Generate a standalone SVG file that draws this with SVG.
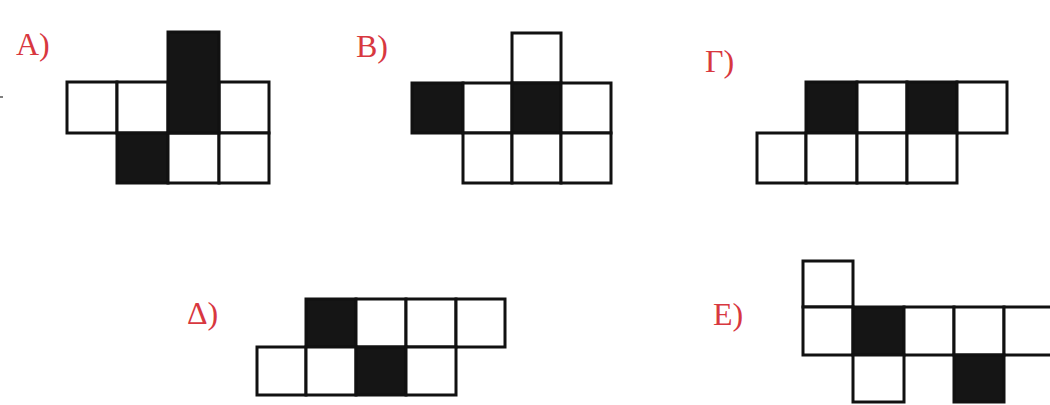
<svg xmlns="http://www.w3.org/2000/svg" width="1050" height="405" viewBox="0 0 1050 405">
<style>
.w{fill:#fff;stroke:#111;stroke-width:3}
.b{fill:#151515;stroke:#111;stroke-width:3}
.lbl{font-family:"Liberation Serif",serif;font-size:32px;fill:#d8383f}
</style>
<rect width="1050" height="405" fill="#fff"/>
<g id="figA">
<text class="lbl" x="16" y="55">A)</text>
<rect class="w" x="67" y="82" width="50" height="51"/>
<rect class="w" x="117" y="82" width="51" height="51"/>
<rect class="w" x="219" y="82" width="50" height="51"/>
<rect class="b" x="117" y="133" width="51" height="50"/>
<rect class="w" x="168" y="133" width="51" height="50"/>
<rect class="w" x="219" y="133" width="50" height="50"/>
<rect class="b" x="168" y="32" width="51" height="101"/>
<line x1="0" y1="97" x2="3" y2="97" stroke="#555" stroke-width="1.5"/>
</g>
<g id="figB">
<text class="lbl" x="356" y="57">B)</text>
<rect class="w" x="512" y="33" width="49" height="50"/>
<rect class="b" x="412" y="83" width="51" height="50"/>
<rect class="w" x="463" y="83" width="49" height="50"/>
<rect class="b" x="512" y="83" width="49" height="50"/>
<rect class="w" x="561" y="83" width="50" height="50"/>
<rect class="w" x="463" y="133" width="49" height="50"/>
<rect class="w" x="512" y="133" width="49" height="50"/>
<rect class="w" x="561" y="133" width="50" height="50"/>
</g>
<g id="figG">
<text class="lbl" x="705" y="72">Γ)</text>
<rect class="b" x="806" y="82" width="51" height="51"/>
<rect class="w" x="857" y="82" width="50" height="51"/>
<rect class="b" x="907" y="82" width="50" height="51"/>
<rect class="w" x="957" y="82" width="50" height="51"/>
<rect class="w" x="757" y="133" width="49" height="50"/>
<rect class="w" x="806" y="133" width="51" height="50"/>
<rect class="w" x="857" y="133" width="50" height="50"/>
<rect class="w" x="907" y="133" width="50" height="50"/>
</g>
<g id="figD">
<text class="lbl" x="187" y="324">Δ)</text>
<rect class="b" x="306" y="299" width="50" height="48"/>
<rect class="w" x="356" y="299" width="50" height="48"/>
<rect class="w" x="406" y="299" width="50" height="48"/>
<rect class="w" x="456" y="299" width="49" height="48"/>
<rect class="w" x="257" y="347" width="49" height="48"/>
<rect class="w" x="306" y="347" width="50" height="48"/>
<rect class="b" x="356" y="347" width="50" height="48"/>
<rect class="w" x="406" y="347" width="50" height="48"/>
</g>
<g id="figE">
<text class="lbl" x="713" y="325">E)</text>
<rect class="w" x="803" y="261" width="50" height="46"/>
<rect class="w" x="803" y="307" width="50" height="48"/>
<rect class="b" x="853" y="307" width="51" height="48"/>
<rect class="w" x="904" y="307" width="50" height="48"/>
<rect class="w" x="954" y="307" width="50" height="48"/>
<rect class="w" x="1004" y="307" width="50" height="48"/>
<rect class="w" x="853" y="355" width="51" height="47"/>
<rect class="b" x="954" y="355" width="50" height="47"/>
</g>
</svg>
